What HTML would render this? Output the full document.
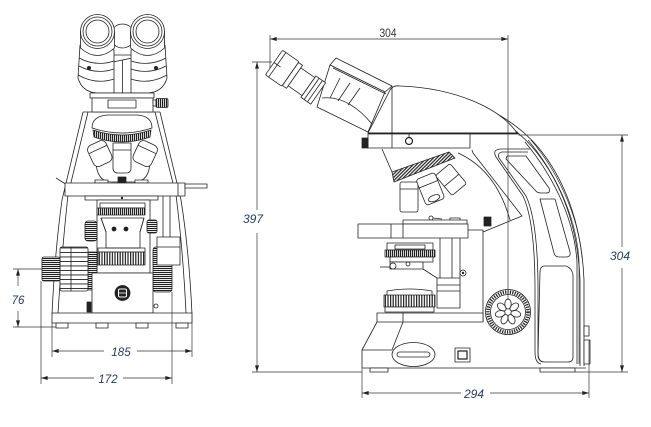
<!DOCTYPE html>
<html><head><meta charset="utf-8"><style>html,body{margin:0;padding:0;background:#fff}svg{display:block}</style></head>
<body>
<svg width="651" height="427" viewBox="0 0 651 427" xmlns="http://www.w3.org/2000/svg">
<defs>
<marker id="ar" viewBox="0 0 10 6" refX="10" refY="3" markerUnits="userSpaceOnUse" markerWidth="8" markerHeight="4" orient="auto"><path d="M0,0L10,3L0,6z" fill="#222"/></marker>
<pattern id="vl" width="2" height="10" patternUnits="userSpaceOnUse"><rect width="10" height="10" fill="#fff"/><rect width="1.2" height="10" fill="#222"/></pattern>
<pattern id="vl2" width="2.6" height="10" patternUnits="userSpaceOnUse"><rect width="10" height="10" fill="#fff"/><rect width="1.2" height="10" fill="#222"/></pattern>
<pattern id="hl" width="10" height="2" patternUnits="userSpaceOnUse"><rect width="10" height="10" fill="#fff"/><rect width="10" height="1.1" fill="#222"/></pattern>
<pattern id="hl4" width="10" height="4.5" patternUnits="userSpaceOnUse"><rect width="10" height="10" fill="#fff"/><rect width="10" height="0.9" fill="#222"/></pattern>
<pattern id="hatch" width="2.4" height="2.4" patternUnits="userSpaceOnUse" patternTransform="rotate(45)"><rect width="10" height="10" fill="#fff"/><rect width="1.2" height="2.4" fill="#222"/></pattern>
</defs>

<!-- ================= FRONT VIEW ================= -->
<g fill="none" stroke="#222" stroke-width="0.8" stroke-linejoin="round">
  <!-- frame -->
  <path d="M83,112 L62,200 Q55,250 52,314"/>
  <path d="M88,112 L68,195 Q62,250 58,313"/>
  <path d="M160,112 L181,200 Q189,250 192,314"/>
  <path d="M155,112 L176,195 Q183,250 186,313"/>
  <line x1="83" y1="112" x2="160" y2="112"/>

  <!-- middle head circle & prism -->
  <circle cx="122.5" cy="36" r="12" fill="#fff"/>
  <rect x="113" y="55" width="19" height="38" fill="#fff"/>
  <path d="M113,62 L132,58 M122.5,60 L122.5,93"/>

  <!-- left eyepiece -->
  <g id="eyeL">
    <path d="M80,45 L78,78 Q82,92 97,93 L114,93 L114,50 Z" fill="#fff"/>
    <path d="M79,58 Q96,67 114,61 M79,66 Q96,75 114,69 M78,75 Q96,85 114,79"/>
    <circle cx="89" cy="68" r="1.6" fill="#222"/>
    <path d="M80.5,31 L80.5,48 Q97.5,63 114.5,48 L114.5,31" fill="#fff"/>
    <circle cx="97.5" cy="31.5" r="17" fill="#fff"/>
    <circle cx="97.5" cy="31.5" r="14.5"/>
    <circle cx="97.5" cy="31.5" r="11.5"/>
  </g>
  <!-- right eyepiece (mirror) -->
  <g transform="translate(245,0) scale(-1,1)">
    <path d="M80,45 L78,78 Q82,92 97,93 L114,93 L114,50 Z" fill="#fff"/>
    <path d="M79,58 Q96,67 114,61 M79,66 Q96,75 114,69 M78,75 Q96,85 114,79"/>
    <circle cx="89" cy="68" r="1.6" fill="#222"/>
    <path d="M80.5,31 L80.5,48 Q97.5,63 114.5,48 L114.5,31" fill="#fff"/>
    <circle cx="97.5" cy="31.5" r="17" fill="#fff"/>
    <circle cx="97.5" cy="31.5" r="14.5"/>
    <circle cx="97.5" cy="31.5" r="11.5"/>
  </g>

  <!-- head block -->
  <rect x="90" y="93" width="64" height="5" fill="#fff"/>
  <rect x="92" y="98" width="61" height="14" fill="#fff"/>
  <rect x="108" y="100" width="28" height="8"/>
  <rect x="153" y="100" width="3" height="6" fill="#fff"/>
  <rect x="156" y="98.5" width="12" height="9" rx="1.5" fill="url(#vl)"/>

  <!-- nosepiece -->
  <path d="M96,160 Q96,182 112,182 L134,182 Q150,182 150,160" fill="#fff"/>
  <path d="M92,128 Q92,116 108,115 L137,115 Q152,116 152,128 Q122,138 92,128 Z" fill="#fff"/>
  <path d="M93,130 Q122,140 151,130 L150,137 Q122,147 94,137 Z" fill="url(#vl)"/>
  <!-- objectives -->
  <g transform="rotate(-25 100 154)"><rect x="90" y="142" width="20" height="23" rx="5" fill="#fff"/><line x1="90" y1="149" x2="110" y2="149"/></g>
  <g transform="rotate(25 145 154)"><rect x="135" y="142" width="20" height="23" rx="5" fill="#fff"/><line x1="135" y1="149" x2="155" y2="149"/></g>
  <path d="M113,143 L131,143 L131,168 Q131,173 126,173 L118,173 Q113,173 113,168 Z" fill="#fff"/>
  <line x1="113" y1="150" x2="131" y2="150"/>

  <!-- stage -->
  <line x1="56" y1="178" x2="67" y2="185"/>
  <rect x="95" y="180" width="13" height="3" fill="#fff"/>
  <rect x="118" y="177" width="8" height="6" fill="#222"/>
  <rect x="135" y="180" width="13" height="3" fill="#fff"/>
  <rect x="65" y="183" width="120" height="13" fill="#fff"/>
  <line x1="178" y1="183" x2="178" y2="196"/>
  <rect x="185" y="184" width="22" height="4" fill="#fff"/>

  <!-- under stage -->
  <rect x="85" y="196" width="73" height="4" fill="#fff"/>
  <circle cx="122" cy="198" r="0.8" fill="#222"/>
  <path d="M163,196 L163,237 M170,196 L170,237"/>
  <rect x="97" y="200" width="53" height="73" fill="#fff"/>
  <rect x="100" y="203" width="45" height="5"/>
  <rect x="97" y="208" width="48" height="7" fill="url(#vl)"/>
  <path d="M101,218 L144,218 L140,232 L140,248 L106,248 L106,232 Z"/>
  <path d="M101,218 L106,232 M144,218 L140,232"/>
  <circle cx="114" cy="229" r="2" fill="#222"/>
  <circle cx="126" cy="229" r="2" fill="#222"/>
  <rect x="85" y="221" width="12" height="20" rx="3" fill="url(#hl)"/>
  <rect x="147" y="220" width="10" height="13" rx="2" fill="url(#hl)"/>
  <rect x="98" y="248" width="47" height="4"/>
  <rect x="98" y="252" width="47" height="13" fill="url(#vl2)"/>

  <!-- right knob + column -->
  <rect x="153" y="247" width="19" height="45" rx="3" fill="url(#hl)"/>
  <rect x="157" y="237" width="23" height="28" fill="#fff"/>
  <line x1="157" y1="247" x2="180" y2="247"/>

  <!-- left knobs -->
  <rect x="88" y="252" width="9" height="38" fill="url(#hl)"/>
  <rect x="60" y="247" width="28" height="44" rx="2" fill="url(#hl4)"/>
  <line x1="71" y1="247" x2="71" y2="291"/>
  <rect x="42" y="257" width="18" height="24" rx="2" fill="url(#hl)"/>

  <!-- base block -->
  <rect x="92" y="273" width="61" height="40" fill="#fff"/>
  <circle cx="122.5" cy="293" r="7.5" fill="#222"/>
  <rect x="118.5" y="289" width="8" height="8" rx="1.5" stroke="#fff" stroke-width="1"/>
  <line x1="119" y1="293" x2="126" y2="293" stroke="#fff" stroke-width="0.8"/>
  <rect x="87" y="302" width="4" height="10" fill="#222"/>
  <circle cx="156" cy="306" r="2"/>

  <!-- base -->
  <rect x="52" y="313" width="140" height="10" fill="#fff"/>
  <rect x="56" y="323" width="12" height="5" fill="#fff"/>
  <rect x="96" y="323" width="12" height="5" fill="#fff"/>
  <rect x="136" y="323" width="12" height="5" fill="#fff"/>
  <rect x="176" y="323" width="12" height="5" fill="#fff"/>
</g>

<!-- front dimensions -->
<g fill="none" stroke="#333" stroke-width="0.7">
  <line x1="13" y1="269" x2="42" y2="269"/>
  <line x1="13" y1="327" x2="56" y2="327"/>
  <line x1="18" y1="286" x2="18" y2="269" marker-end="url(#ar)"/>
  <line x1="18" y1="311" x2="18" y2="327" marker-end="url(#ar)"/>

  <line x1="52" y1="322" x2="52" y2="357"/>
  <line x1="192" y1="316" x2="192" y2="357"/>
  <line x1="104" y1="351" x2="52" y2="351" marker-end="url(#ar)"/>
  <line x1="137" y1="351" x2="192" y2="351" marker-end="url(#ar)"/>

  <line x1="41" y1="281" x2="41" y2="384"/>
  <line x1="172" y1="292" x2="172" y2="384"/>
  <line x1="94" y1="378" x2="41" y2="378" marker-end="url(#ar)"/>
  <line x1="123" y1="378" x2="172" y2="378" marker-end="url(#ar)"/>
</g>
<g font-family="Liberation Sans, sans-serif" font-style="italic" font-size="11.5" fill="#253a66" text-anchor="middle">
  <text x="18" y="304">76</text>
  <text x="121" y="356">185</text>
  <text x="108" y="383">172</text>
</g>

<!-- ================= SIDE VIEW ================= -->
<g fill="none" stroke="#222" stroke-width="0.8" stroke-linejoin="round">
  <!-- arm outer band -->
  <path d="M395,86 C455,88 512,113 542,152 C568,186 582,230 584,280 L584,366" fill="#fff"/>
  <path d="M398,89 C455,91 509,116 538,154 C564,188 578,230 580,280 L580,366"/>
  <path d="M525,142 C550,172 574,215 577,262 L577,364"/>
  <path d="M528,140 C553,170 576,213 579,260 L579,364" stroke-width="0.6"/>
  <path d="M531,140 C555,168 578,212 582,258" stroke-width="0.6"/>

  <!-- side panel edge -->
  <path d="M530,149 L500,149 Q492,150 496,157 L523,196 C532,215 535,250 535,290 L535,352 Q535,363 541,364"/>
  <path d="M528,152 L502,152 Q497,153 499,158 L526,196 C535,215 538,250 538,290 L538,352 Q538,361 543,362"/>
  <!-- slots -->
  <path d="M507,156 L526,156 L549,188 Q551,193 546,193 L541,193 Q537,193 535,190 L506,159 Z"/>
  <path d="M540,199 L555,199 L570,252 Q571,257 566,257 L559,257 Q555,257 554,253 Z"/>
  <path d="M545,266 L566,266 Q572,268 573,275 L573,357 Q573,362 568,362 L545,362 Q538,362 538,355 L540,272 Q540,266 545,266 Z"/>

  <!-- head -->
  <path d="M368,133 L390,90 Q393,85 400,86 C455,88 500,108 517,133 Z" fill="#fff"/>
  <rect x="368" y="133" width="102" height="15" fill="#fff"/>
  <line x1="392" y1="86" x2="392" y2="148"/>
  <line x1="368" y1="133.5" x2="518" y2="133.5" stroke-width="1.8"/>
  <rect x="362" y="138" width="6" height="10" fill="#222"/>
  <line x1="409" y1="133" x2="409" y2="137.5"/>
  <circle cx="409" cy="141" r="3.5" stroke-width="1.2"/>

  <!-- binocular housing -->
  <path d="M330,65 L336,58 L392,86 L385,92 Z" fill="#fff"/>
  <path d="M330,65 L385,92 L368,132 L317,107 Z" fill="#fff"/>
  <path d="M322,98 Q348,95 372,124"/>
  <path d="M340,78 L330,98 M350,83 L338,101 M360,88 L348,105"/>
  <path d="M333,68 L386,94"/>

  <!-- eyepiece -->
  <g transform="translate(274,62.5) rotate(35)">
    <rect x="42" y="-13" width="12" height="26" fill="#fff"/>
    <path d="M46,-13 L46,13 M50,-13 L50,13"/>
    <rect x="25" y="-11" width="17" height="22" fill="#fff"/>
    <rect x="20" y="-14" width="5" height="28" fill="#fff"/>
    <rect x="0" y="-15" width="20" height="30" rx="1.5" fill="#fff"/>
    <line x1="4" y1="-15" x2="4" y2="15"/>
    <line x1="0" y1="0" x2="8" y2="0"/>
  </g>

  <!-- nosepiece -->
  <path d="M382,149 L392,172"/>
  <path d="M392,172 L394,182 L455,158 L449,152 Z" fill="url(#hatch)"/>
  <path d="M458,153 Q496,170 510,220"/>
  <path d="M472,150 L473,153 L522,216 L483,232"/>
  <!-- objectives -->
  <rect x="400" y="182" width="18" height="30" rx="2" fill="#fff"/>
  <line x1="400" y1="189" x2="418" y2="189"/>
  <g transform="rotate(-40 452 180)"><rect x="442" y="166" width="19" height="26" rx="2" fill="#fff"/><line x1="442" y1="180" x2="461" y2="180"/></g>
  <g transform="rotate(-22 430 188)"><rect x="420" y="175" width="20" height="28" rx="3" fill="#fff"/><line x1="420" y1="184" x2="440" y2="184"/><ellipse cx="430" cy="199" rx="6" ry="3"/></g>

  <!-- stage -->
  <circle cx="431" cy="218" r="2"/>
  <line x1="433" y1="218" x2="442" y2="219"/>
  <rect x="450" y="218" width="10" height="4" fill="#fff"/>
  <rect x="403" y="220" width="64" height="4" fill="#fff"/>
  <rect x="358" y="224" width="110" height="14" fill="#fff"/>
  <path d="M391,224 L391,238 M403,224 L403,238"/>
  <rect x="484" y="217" width="7" height="9" fill="#222"/>
  <path d="M468,230 L483,230 L483,322"/>
  <path d="M440,238 L440,278 M452,238 L452,278 M460,238 L460,278"/>
  <circle cx="463" cy="273" r="3"/><circle cx="463" cy="273" r="0.8" fill="#222"/>

  <!-- condenser -->
  <rect x="387" y="243" width="46" height="7" fill="#fff"/>
  <rect x="395" y="245" width="30" height="4"/>
  <rect x="385" y="250" width="50" height="7" fill="url(#vl)"/>
  <rect x="390" y="257" width="43" height="5" fill="#fff"/>
  <rect x="390" y="262" width="33" height="7" fill="#fff"/>
  <line x1="380" y1="267" x2="392" y2="267"/>
  <circle cx="393" cy="266" r="3" fill="#fff"/>
  <circle cx="408" cy="264" r="2"/>
  <line x1="423" y1="269" x2="437" y2="278"/>

  <!-- collector -->
  <rect x="437" y="278" width="23" height="30" fill="#fff"/>
  <path d="M437,285 L460,285 M437,291 L460,291"/>

  <!-- field lens / lamp -->
  <path d="M387,295 L387,291 Q410,287 432,291 L432,295" fill="#fff"/>
  <rect x="384" y="295" width="51" height="12" fill="url(#vl2)"/>
  <rect x="385" y="307" width="49" height="5" fill="#fff"/>

  <!-- base -->
  <rect x="377" y="313" width="106" height="9" fill="#fff"/>
  <line x1="403" y1="313" x2="403" y2="322"/>
  <path d="M377,322 L362,350 L362,368 M403,322 L392,350 M362,350 L392,350"/>
  <line x1="362" y1="368" x2="586" y2="368"/>
  <ellipse cx="413.5" cy="354.5" rx="21.5" ry="12" fill="#fff"/>
  <rect x="397" y="352" width="33" height="5" rx="2.5"/>
  <rect x="455" y="348" width="15" height="14" fill="#fff"/>
  <rect x="458" y="351" width="9" height="8" stroke-width="1.2"/>
  <rect x="370" y="368" width="18" height="4" fill="#fff"/>
  <rect x="540" y="368" width="35" height="4" fill="#fff"/>
  <rect x="584" y="326" width="5" height="10" fill="#fff"/>
  <rect x="584" y="340" width="6" height="24" fill="#fff"/>

  <!-- focus knob -->
  <circle cx="508" cy="312" r="22.5" fill="#fff"/>
  <circle cx="508" cy="312" r="20" stroke-width="3.5" stroke-dasharray="1.2 1.2"/>
  <circle cx="508" cy="312" r="17.5"/>
  <g>
    <ellipse cx="508" cy="304" rx="3.2" ry="5"/>
    <ellipse cx="508" cy="304" rx="3.2" ry="5" transform="rotate(51.4 508 312)"/>
    <ellipse cx="508" cy="304" rx="3.2" ry="5" transform="rotate(102.8 508 312)"/>
    <ellipse cx="508" cy="304" rx="3.2" ry="5" transform="rotate(154.3 508 312)"/>
    <ellipse cx="508" cy="304" rx="3.2" ry="5" transform="rotate(205.7 508 312)"/>
    <ellipse cx="508" cy="304" rx="3.2" ry="5" transform="rotate(257.1 508 312)"/>
    <ellipse cx="508" cy="304" rx="3.2" ry="5" transform="rotate(308.6 508 312)"/>
  </g>
</g>

<!-- side dimensions -->
<g fill="none" stroke="#333" stroke-width="0.7">
  <!-- top 304 -->
  <line x1="270" y1="35" x2="270" y2="68"/>
  <line x1="508" y1="35" x2="508" y2="300"/>
  <line x1="390" y1="39" x2="270" y2="39" marker-end="url(#ar)"/>
  <line x1="390" y1="39" x2="508" y2="39" marker-end="url(#ar)"/>
  <!-- 397 -->
  <line x1="252" y1="62" x2="272" y2="62"/>
  <line x1="252" y1="372" x2="362" y2="372"/>
  <line x1="257" y1="210" x2="257" y2="62" marker-end="url(#ar)"/>
  <line x1="257" y1="233" x2="257" y2="372" marker-end="url(#ar)"/>
  <!-- right 304 -->
  <line x1="518" y1="135" x2="628" y2="135"/>
  <line x1="575" y1="372" x2="628" y2="372"/>
  <line x1="622" y1="247" x2="622" y2="135" marker-end="url(#ar)"/>
  <line x1="622" y1="268" x2="622" y2="372" marker-end="url(#ar)"/>
  <!-- 294 -->
  <line x1="362" y1="368" x2="362" y2="398"/>
  <line x1="589" y1="340" x2="589" y2="398"/>
  <line x1="461" y1="393" x2="362" y2="393" marker-end="url(#ar)"/>
  <line x1="490" y1="393" x2="589" y2="393" marker-end="url(#ar)"/>
</g>
<text x="388" y="37" font-family="Liberation Sans, sans-serif" font-size="12" fill="#333" text-anchor="middle" transform="translate(388 0) scale(0.85 1) translate(-388 0)">304</text>
<g font-family="Liberation Sans, sans-serif" font-style="italic" font-size="12" fill="#253a66" text-anchor="middle">
  <text x="253" y="223">397</text>
  <text x="620" y="260">304</text>
  <text x="474" y="398">294</text>
</g>
</svg>
</body></html>
